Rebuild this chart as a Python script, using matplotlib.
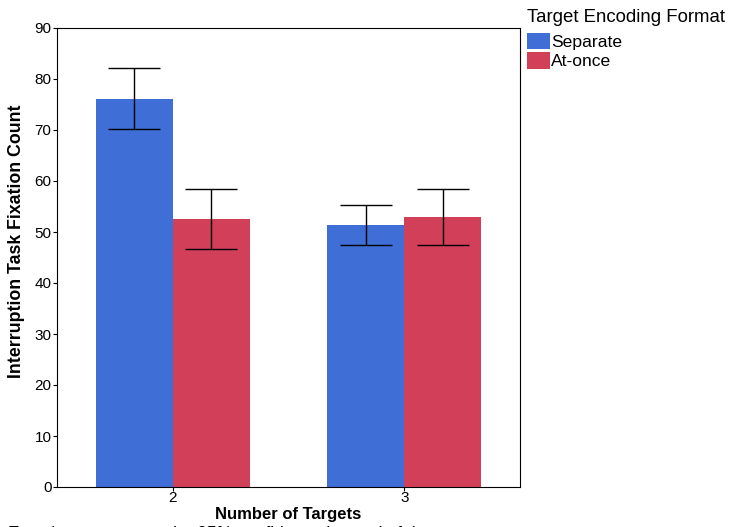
import matplotlib
matplotlib.use("Agg")
import matplotlib.pyplot as plt
import numpy as np
from matplotlib.patches import Patch

plt.rcParams['font.family'] = ['Liberation Sans', 'DejaVu Sans']

categories = ["2", "3"]
series_names = ["Separate", "At-once"]
separate_vals = [76.1, 51.4]
separate_lo = [70.2, 47.5]
separate_hi = [82.1, 55.3]
atonce_vals = [52.5, 52.9]
atonce_lo = [46.7, 47.5]
atonce_hi = [58.4, 58.4]
colors = ["#3F6ED6", "#D14058"]
yticks = [0, 10, 20, 30, 40, 50, 60, 70, 80, 90]

fig = plt.figure(figsize=(7.32, 5.27), dpi=100)
ax = fig.add_axes([57/732, 40/527, 463/732, 459/527])

x = np.arange(len(categories))
w = 1/3
for i, (vals, lo, hi) in enumerate([(separate_vals, separate_lo, separate_hi),
                                     (atonce_vals, atonce_lo, atonce_hi)]):
    pos = x + (i - 0.5) * w
    ax.bar(pos, vals, width=w, color=colors[i], edgecolor='none', zorder=2)
    vals = np.array(vals); lo = np.array(lo); hi = np.array(hi)
    ax.errorbar(pos, vals, yerr=[vals - lo, hi - vals], fmt='none',
                ecolor='black', elinewidth=1, capsize=18.7, capthick=1, zorder=3)

ax.set_xlim(-0.5, 1.5)
ax.set_ylim(0, 90)
ax.set_xticks(x)
ax.set_xticklabels(categories)
ax.set_yticks(yticks)
ax.tick_params(labelsize=11, length=3, width=0.8, color='black', pad=1)
ax.tick_params(axis='x', pad=0)
for s in ax.spines.values():
    s.set_color('black')
    s.set_linewidth(0.8)
ax.set_xlabel("Number of Targets", fontsize=12, fontweight='bold', labelpad=0)
ax.xaxis.set_label_coords(0.5, -20/459, transform=ax.transAxes)
ax.set_ylabel("Interruption Task Fixation Count", fontsize=12.8, fontweight='bold')
ax.yaxis.set_label_coords(-32/463, 0.536, transform=ax.transAxes)

handles = [Patch(facecolor=c, edgecolor='none') for c in colors]
leg = fig.legend(handles, series_names, loc='upper left',
                 bbox_to_anchor=(518/732, 1.0), frameon=False,
                 title="Target Encoding Format", title_fontsize=13.4, fontsize=12.6,
                 handlelength=1.3, handleheight=1.1, handletextpad=0.08,
                 labelspacing=0.1, borderaxespad=0.3, borderpad=0.2)
leg._legend_box.align = "left"
leg._legend_box.sep = 5

fig.text(8/732, -11/527, "Error bars represent the 95% confidence interval of the mean",
         fontsize=12.5, ha='left', va='baseline')

fig.savefig("out.png", dpi=100)
